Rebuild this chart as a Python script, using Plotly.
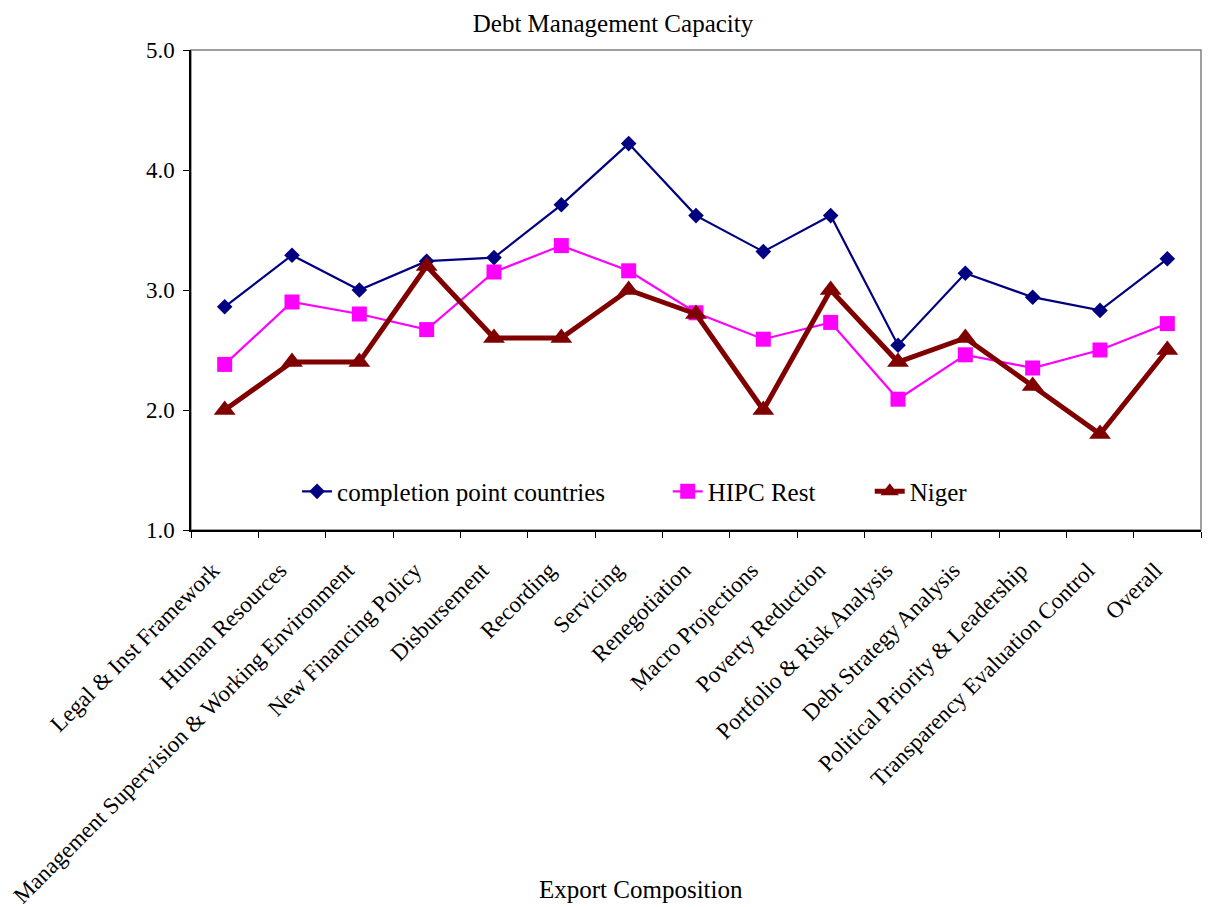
import plotly.graph_objects as go

# categories on the x axis
categories = [
    "Legal & Inst Framework", "Human Resources",
    "Management Supervision & Working Environment", "New Financing Policy",
    "Disbursement", "Recording", "Servicing", "Renegotiation",
    "Macro Projections", "Poverty Reduction", "Portfolio & Risk Analysis",
    "Debt Strategy Analysis", "Political Priority & Leadership",
    "Transparency Evaluation Control", "Overall",
]

# scores
completion_point = [2.86, 3.29, 3.00, 3.24, 3.27, 3.71, 4.22, 3.62, 3.32, 3.62, 2.54, 3.14, 2.94, 2.83, 3.26]
hipc_rest = [2.38, 2.90, 2.80, 2.67, 3.15, 3.37, 3.16, 2.81, 2.59, 2.73, 2.09, 2.46, 2.35, 2.50, 2.72]
niger = [2.0, 2.4, 2.4, 3.2, 2.6, 2.6, 3.0, 2.8, 2.0, 3.0, 2.4, 2.6, 2.2, 1.8, 2.5]

y_ticks = [1.0, 2.0, 3.0, 4.0, 5.0]

FONT = "Liberation Serif, Times New Roman, serif"

fig = go.Figure()
fig.add_trace(go.Scatter(
    x=categories, y=completion_point, name="completion point countries",
    mode="lines+markers", legend="legend",
    line=dict(color="#000080", width=2.2),
    marker=dict(symbol="diamond", size=12, color="#000080"),
))
fig.add_trace(go.Scatter(
    x=categories, y=hipc_rest, name="HIPC Rest",
    mode="lines+markers", legend="legend2",
    line=dict(color="#FF00FF", width=2.2),
    marker=dict(symbol="square", size=15, color="#FF00FF"),
))
fig.add_trace(go.Scatter(
    x=categories, y=niger, name="Niger",
    mode="lines+markers", legend="legend3",
    line=dict(color="#800000", width=5),
    marker=dict(symbol="triangle-up", size=19, color="#800000"),
))

# plot area border (grey), axes drawn black on top
fig.add_shape(type="rect", xref="paper", yref="paper", x0=0, y0=0, x1=1, y1=1,
              line=dict(color="#808080", width=1.5), layer="below")

fig.add_annotation(text="Export Composition", xref="paper", yref="paper",
                   x=0.4455, y=-0.782, xanchor="center", yanchor="bottom",
                   showarrow=False, font=dict(family=FONT, size=25, color="black"))

legend_style = dict(orientation="h", y=0.08, xanchor="left", yanchor="middle",
                    bgcolor="rgba(0,0,0,0)", font=dict(family=FONT, size=25))

fig.update_layout(
    width=1210, height=907,
    margin=dict(l=183, r=17, t=42, b=385),
    paper_bgcolor="white", plot_bgcolor="white",
    font=dict(family=FONT, size=24, color="black"),
    title=dict(text="Debt Management Capacity", x=0.5, xanchor="center",
               y=0.993, yanchor="top", pad=dict(t=0, b=0),
               font=dict(family=FONT, size=25)),
    showlegend=True,
    legend=dict(x=0.105, **legend_style),
    legend2=dict(x=0.472, **legend_style),
    legend3=dict(x=0.672, **legend_style),
)
fig.update_xaxes(
    type="category", range=[-0.5, len(categories) - 0.5],
    tickangle=-45, tickson="boundaries",
    ticks="outside", ticklen=6, tickcolor="black",
    showline=True, linecolor="black", linewidth=1.5,
    showgrid=False, automargin=False,
    ticklabelstandoff=16, ticklabelshift=-12,
    tickfont=dict(family=FONT, size=23),
)
fig.update_yaxes(
    range=[1, 5], tickvals=y_ticks, tickformat=".1f",
    ticks="outside", ticklen=6, tickcolor="black",
    showline=True, linecolor="black", linewidth=1.5,
    showgrid=False, zeroline=False, automargin=False,
    ticklabelstandoff=4,
    tickfont=dict(family=FONT, size=23),
)

fig.write_html("out.html")
